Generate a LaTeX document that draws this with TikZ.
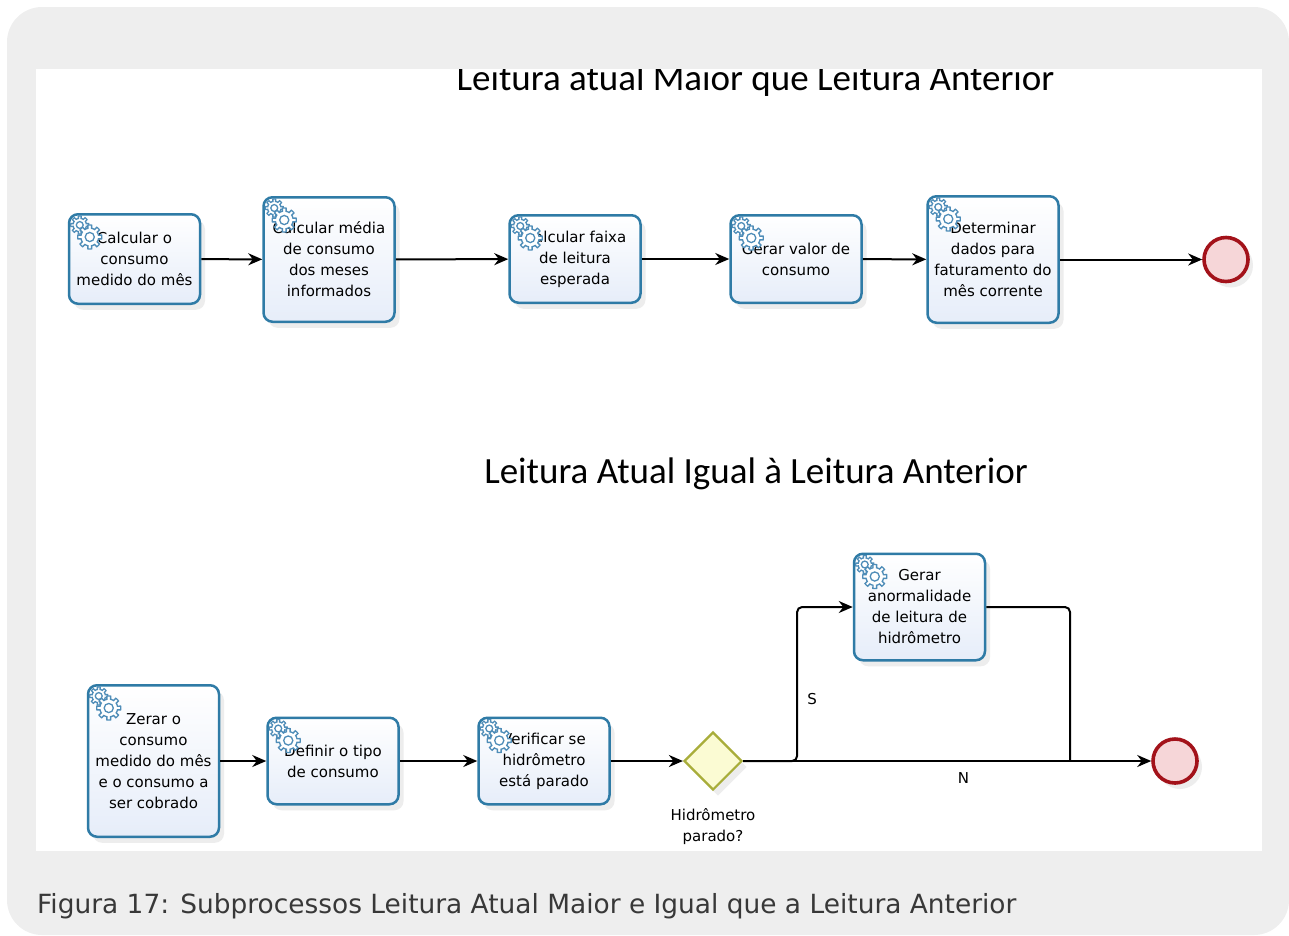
\documentclass[tikz,border=0pt]{standalone}
\usepackage{fontspec}
\setmainfont{DejaVu Sans}
\newfontfamily\titlefont{Carlito}
\usetikzlibrary{shapes.geometric,arrows.meta,positioning,shadows}

\definecolor{panelgray}{HTML}{EEEEEE}
\definecolor{taskline}{HTML}{2F7BA6}
\definecolor{taskfill}{HTML}{E6EDF9}
\definecolor{gearblue}{HTML}{4F8DB8}
\definecolor{endred}{HTML}{A3121A}
\definecolor{endfill}{HTML}{F6D6D8}
\definecolor{gwline}{HTML}{A8AD3A}
\definecolor{gwfill}{HTML}{FBFBD3}
\definecolor{captiongray}{HTML}{383838}

\tikzset{
  task/.style={draw=taskline, line width=2.5pt, rounded corners=9pt,
    top color=white, bottom color=taskfill, align=center, inner sep=2pt,
    font=\fontsize{15}{21}\selectfont, minimum width=131pt,
    drop shadow={opacity=0.14, shadow xshift=5pt, shadow yshift=-6pt}},
  endev/.style={circle, draw=endred, line width=3.6pt, fill=endfill,
    minimum size=44pt, inner sep=0pt,
    drop shadow={opacity=0.14, shadow xshift=5pt, shadow yshift=-6pt}},
  gateway/.style={diamond, draw=gwline, line width=2.2pt, fill=gwfill,
    minimum width=58pt, minimum height=58pt, inner sep=0pt,
    drop shadow={opacity=0.14, shadow xshift=5pt, shadow yshift=-6pt}},
  lbl/.style={font=\fontsize{15}{21}\selectfont, align=center},
  flow/.style={line width=2pt, -{Stealth[length=14pt, width=12pt]}},
  line/.style={line width=2pt},
  gearline/.style={draw=gearblue, line width=1.3pt, fill=white},
  pics/gear/.style={code={
    \draw[gearline] plot[domain=0:360, samples=121, variable=\t]
      (\t:{#1*(0.74+0.26*(cos(8*\t)>0.3))}) -- cycle;
    \draw[gearline] (0,0) circle[radius={#1*0.38}];
  }}
}

\begin{document}
\begin{tikzpicture}[x=1pt, y=-1pt]
  \useasboundingbox (0,0) rectangle (1289,935);
  % panel
  \fill[panelgray, rounded corners=35pt] (7,7) rectangle (1289,935);
  \fill[white] (36,69) rectangle (1262,851);
  \begin{scope}
    \clip (36,69) rectangle (1262,851);
    \node[anchor=base, font=\titlefont\fontsize{37}{40}\selectfont] (title1) at (755.5,90) {Leitura atual Maior que Leitura Anterior};
  \end{scope}
  \node[anchor=base, font=\titlefont\fontsize{37}{40}\selectfont] (title2) at (756,483) {Leitura Atual Igual à Leitura Anterior};

  % upper process
  \node[task, minimum height=89.5pt] (t1) at (134.5,259) {Calcular o\\consumo\\medido do mês};
  \node[task, minimum height=124.5pt] (t2) at (329,259.5) {Calcular média\\de consumo\\dos meses\\informados};
  \node[task, minimum height=87.5pt] (t3) at (575,259) {Calcular faixa\\de leitura\\esperada};
  \node[task, minimum height=87.5pt] (t4) at (796,259) {Gerar valor de\\consumo};
  \node[task, minimum height=126.5pt] (t5) at (993,259.5) {Determinar\\dados para\\faturamento do\\mês corrente};
  \node[endev] (e1) at (1226,259.5) {};

  % lower process
  \node[task, minimum height=151.5pt] (b1) at (153.5,761) {Zerar o\\consumo\\medido do mês\\e o consumo a\\ser cobrado};
  \node[task, minimum height=86.5pt] (b2) at (333,761) {Definir o tipo\\de consumo};
  \node[task, minimum height=86.5pt] (b3) at (544,761) {Verificar se\\hidrômetro\\está parado};
  \node[gateway] (gw) at (713,761) {};
  \node[lbl] (gwlabel) at (713,827) {Hidrômetro\\parado?};
  \node[task, minimum height=106.5pt] (g) at (919.5,607) {Gerar\\anormalidade\\de leitura de\\hidrômetro};
  \node[endev] (e2) at (1175,761) {};

  \foreach \n in {t1,t2,t3,t4,t5,b1,b2,b3,g}{
    \pic at ([xshift=12pt,yshift=-12pt]\n.north west) {gear=9};
    \pic at ([xshift=22pt,yshift=-24pt]\n.north west) {gear=12};
  }

  \draw[flow] (t1) -- (t2);
  \draw[flow] (t2) -- (t3);
  \draw[flow] (t3) -- (t4);
  \draw[flow] (t4) -- (t5);
  \draw[flow] (t5) -- (e1);

  \draw[flow] (b1) -- (b2);
  \draw[flow] (b2) -- (b3);
  \draw[flow] (b3) -- (gw);
  \draw[flow] (gw) -- (e2) node[lbl, pos=0.54, below=7pt] {N};
  \draw[flow, rounded corners=5pt] (gw.east) -- ++(54,0) |- (g) node[lbl, pos=0.2, right=6pt] {S};
  \coordinate (join) at (1070,761);
  \draw[line, rounded corners=5pt] (g.east) -| (join);

  \node[anchor=base west, inner sep=0pt, text=captiongray, font=\fontsize{26.4}{30}\selectfont] (caption) at (37,913) {Figura 17: Subprocessos Leitura Atual Maior e Igual que a Leitura Anterior};
\end{tikzpicture}
\end{document}
